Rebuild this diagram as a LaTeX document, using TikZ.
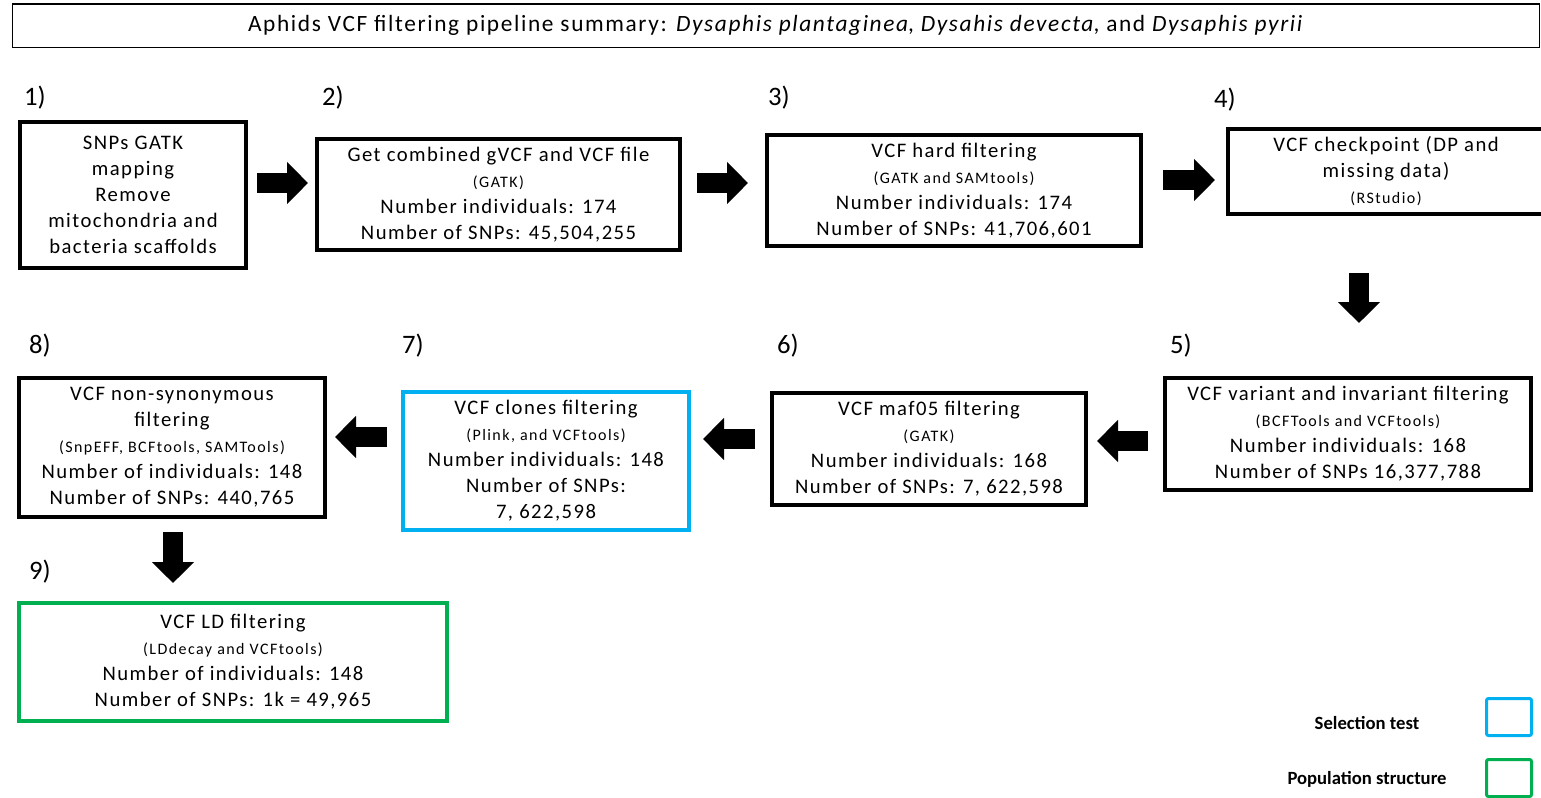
\documentclass[tikz,border=0pt]{standalone}
\usepackage{fontspec}
\setmainfont{Carlito}
\newfontfamily\boxfont[LetterSpace=7]{Carlito}
\newfontfamily\toolfont[LetterSpace=9]{Carlito}
\usepackage{tikz}
\usetikzlibrary{arrows.meta, calc}
\definecolor{selblue}{HTML}{00B0F0}
\definecolor{popgreen}{HTML}{00B050}
\newcommand{\tools}[1]{{\toolfont\fontsize{12}{13}\selectfont #1}}

\begin{document}
\begin{tikzpicture}[x=0.75pt, y=-0.75pt,
    stage/.style={rectangle, draw, line width=3pt, inner sep=0pt, align=center, font=\boxfont\fontsize{15.5}{19.5}\selectfont},
    steplabel/.style={font=\fontsize{20}{22}\selectfont},
    blockarrow/.style={line width=15pt, -{Triangle[length=15.75pt, width=30.75pt]}},
    legendbox/.style={draw, line width=2.25pt, rounded corners=1.5pt, minimum width=33.75pt, minimum height=27.75pt},
    legendtext/.style={font=\bfseries\fontsize{14}{16}\selectfont}]

    \useasboundingbox (0,0) rectangle (1541,797);

    \node [draw, line width=1.1pt, minimum width=1144.9pt, minimum height=32.6pt, font=\boxfont\fontsize{17.5}{20}\selectfont] (title) at (776,25.5)
        {Aphids VCF filtering pipeline summary: \textit{Dysaphis plantaginea}, \textit{Dysahis devecta}, and \textit{Dysaphis pyrii}};

    \node [stage, minimum width=169.5pt, minimum height=109.5pt] (b1) at (133,195)
        {SNPs GATK\\ mapping\\ Remove\\ mitochondria and\\ bacteria scaffolds};
    \node [stage, minimum width=272.25pt, minimum height=83.25pt] (b2) at (498.5,194.5)
        {Get combined gVCF and VCF file\\ \tools{(GATK)}\\ Number individuals: 174\\ Number of SNPs: 45,504,255};
    \node [stage, minimum width=280.5pt, minimum height=83.25pt] (b3) at (954,190.5)
        {VCF hard filtering\\ \tools{(GATK and SAMtools)}\\ Number individuals: 174\\ Number of SNPs: 41,706,601};
    \node [stage, minimum width=237pt, minimum height=63.75pt] (b4) at (1386,171.5)
        {VCF checkpoint (DP and\\ missing data)\\ \tools{(RStudio)}};
    \node [stage, minimum width=274.5pt, minimum height=84pt] (b5) at (1348,434)
        {VCF variant and invariant filtering\\ \tools{(BCFTools and VCFtools)}\\ Number individuals: 168\\ Number of SNPs 16,377,788};
    \node [stage, minimum width=235.5pt, minimum height=84pt] (b6) at (929,449)
        {VCF maf05 filtering\\ \tools{(GATK)}\\ Number individuals: 168\\ Number of SNPs: 7, 622,598};
    \node [stage, draw=selblue, minimum width=214.5pt, minimum height=103.5pt] (b7) at (546,461)
        {VCF clones filtering\\ \tools{(Plink, and VCFtools)}\\ Number individuals: 148\\ Number of SNPs:\\ 7, 622,598};
    \node [stage, minimum width=229.5pt, minimum height=104.25pt] (b8) at (172,447.5)
        {VCF non-synonymous\\ filtering\\ \tools{(SnpEFF, BCFtools, SAMTools)}\\ Number of individuals: 148\\ Number of SNPs: 440,765};
    \node [stage, draw=popgreen, minimum width=321pt, minimum height=88.5pt] (b9) at (233,662)
        {VCF LD filtering\\ \tools{(LDdecay and VCFtools)}\\ Number of individuals: 148\\ Number of SNPs: 1k = 49,965};

    \node [steplabel] (n1) at (35,98) {1)};
    \node [steplabel] (n2) at (333,98) {2)};
    \node [steplabel] (n3) at (779,98) {3)};
    \node [steplabel] (n4) at (1225,100) {4)};
    \node [steplabel] (n5) at (1181,346) {5)};
    \node [steplabel] (n6) at (788,346) {6)};
    \node [steplabel] (n7) at (413,346) {7)};
    \node [steplabel] (n8) at (40,346) {8)};
    \node [steplabel] (n9) at (40,572) {9)};

    \draw [blockarrow, shorten <=6.75pt, shorten >=5.25pt] (b1.east |- 0,183) -- (b2.west |- 0,183);
    \draw [blockarrow, shorten <=11.25pt, shorten >=12.75pt] (b2.east |- 0,183) -- (b3.west |- 0,183);
    \draw [blockarrow, shorten <=15pt, shorten >=8.25pt] (b3.east |- 0,180) -- (b4.west |- 0,180);
    \draw [blockarrow, shorten <=42.75pt, shorten >=39.75pt] ([xshift=-20.25pt]b4.south) -- ([xshift=-20.25pt]b4.south |- b5.north);
    \draw [blockarrow, shorten <=11.25pt, shorten >=6.75pt] (b5.west |- 0,441) -- (b6.east |- 0,441);
    \draw [blockarrow, shorten <=11.25pt, shorten >=9pt] (b6.west |- 0,439) -- (b7.east |- 0,439);
    \draw [blockarrow, shorten <=10.5pt, shorten >=6pt] (b7.west |- 0,437) -- (b8.east |- 0,437);
    \draw [blockarrow, shorten <=9.75pt, shorten >=13.5pt] (b8.south -| 173,0) -- (b9.north -| 173,0);

    \node [legendtext] (lsel) at (1367,723) {Selection test};
    \node [legendtext] (lpop) at (1367,779) {Population structure};
    \node [legendbox, draw=selblue] (ksel) at (1509,717) {};
    \node [legendbox, draw=popgreen] (kpop) at (1509,778) {};
\end{tikzpicture}
\end{document}
